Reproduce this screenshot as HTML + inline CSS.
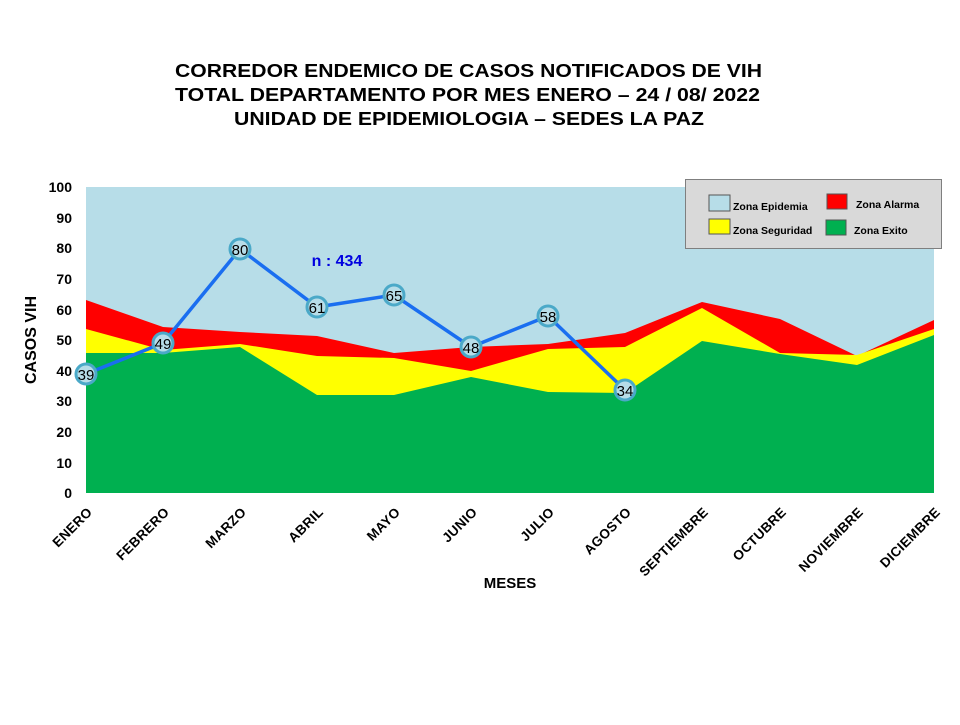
<!DOCTYPE html>
<html><head><meta charset="utf-8"><style>
body{margin:0;background:#fff;width:960px;height:720px;overflow:hidden}
</style></head><body>
<svg width="960" height="720" viewBox="0 0 960 720" xmlns="http://www.w3.org/2000/svg" font-family="Liberation Sans, sans-serif">
<g font-weight="bold" font-size="18" fill="#000">
<text x="175" y="77" textLength="587" lengthAdjust="spacingAndGlyphs">CORREDOR ENDEMICO  DE CASOS NOTIFICADOS  DE VIH</text>
<text x="175" y="101" textLength="585" lengthAdjust="spacingAndGlyphs">TOTAL DEPARTAMENTO  POR MES ENERO – 24 / 08/ 2022</text>
<text x="234" y="125" textLength="470" lengthAdjust="spacingAndGlyphs">UNIDAD  DE EPIDEMIOLOGIA  – SEDES LA PAZ</text>
</g>
<rect x="86" y="187" width="848" height="306" fill="#b7dde8"/>
<polygon fill="#ff0000" points="86,493 86,300 163,327 240,332 317,336 394,353 471,347 548,344 625,333 702,302 780,319 857,356 934,320 934,493"/>
<polygon fill="#ffff00" points="86,493 86,329 163,350 240,344 317,356 394,358 471,371 548,349 625,347 702,308 780,353 857,355 934,329 934,493"/>
<polygon fill="#00b050" points="86,493 86,353 163,353 240,347 317,395 394,395 471,377 548,392 625,393 702,341 780,354 857,365 934,335 934,493"/>
<g font-weight="bold" font-size="14" text-anchor="end">
<text x="72" y="192">100</text><text x="72" y="223">90</text><text x="72" y="253">80</text><text x="72" y="284">70</text><text x="72" y="315">60</text><text x="72" y="345">50</text><text x="72" y="376">40</text><text x="72" y="406">30</text><text x="72" y="437">20</text><text x="72" y="468">10</text><text x="72" y="498">0</text>
</g>
<text transform="translate(36,340) rotate(-90)" font-weight="bold" font-size="16" text-anchor="middle">CASOS VIH</text>
<text x="510" y="588" font-weight="bold" font-size="15" text-anchor="middle">MESES</text>
<g font-weight="bold" font-size="13.5" text-anchor="end" letter-spacing="0.3">
<text transform="translate(93,513) rotate(-45)">ENERO</text>
<text transform="translate(170,513) rotate(-45)">FEBRERO</text>
<text transform="translate(247,513) rotate(-45)">MARZO</text>
<text transform="translate(324,513) rotate(-45)">ABRIL</text>
<text transform="translate(401,513) rotate(-45)">MAYO</text>
<text transform="translate(478,513) rotate(-45)">JUNIO</text>
<text transform="translate(555,513) rotate(-45)">JULIO</text>
<text transform="translate(632,513) rotate(-45)">AGOSTO</text>
<text transform="translate(709,513) rotate(-45)">SEPTIEMBRE</text>
<text transform="translate(787,513) rotate(-45)">OCTUBRE</text>
<text transform="translate(864,513) rotate(-45)">NOVIEMBRE</text>
<text transform="translate(941,513) rotate(-45)">DICIEMBRE</text>
</g>
<polyline fill="none" stroke="#1a6ef0" stroke-width="3.5" points="86,374 163,343 240,249 317,307 394,295 471,347 548,316 625,390"/>
<g fill="#b7dde8" stroke="#4ba9c8" stroke-width="3">
<circle cx="86" cy="374" r="10"/><circle cx="163" cy="343" r="10"/><circle cx="240" cy="249" r="10"/><circle cx="317" cy="307" r="10"/><circle cx="394" cy="295" r="10"/><circle cx="471" cy="347" r="10"/><circle cx="548" cy="316" r="10"/><circle cx="625" cy="390" r="10"/>
</g>
<g font-size="15" text-anchor="middle" fill="#000">
<text x="86" y="380">39</text><text x="163" y="349">49</text><text x="240" y="255">80</text><text x="317" y="313">61</text><text x="394" y="301">65</text><text x="471" y="353">48</text><text x="548" y="322">58</text><text x="625" y="396">34</text>
</g>
<text x="337" y="266" fill="#0000e0" font-weight="bold" font-size="16" text-anchor="middle">n : 434</text>
<rect x="685.5" y="179.5" width="256" height="69" fill="#d9d9d9" stroke="#7f7f7f"/>
<rect x="709" y="195" width="21" height="16" fill="#b7dde8" stroke="#555"/>
<rect x="709" y="219" width="21" height="15" fill="#ffff00" stroke="#555"/>
<rect x="827" y="194" width="20" height="15" fill="#ff0000" stroke="#555"/>
<rect x="826" y="220" width="20" height="15" fill="#00b050" stroke="#555"/>
<g font-size="10.5" font-weight="bold" fill="#000">
<text x="733" y="210">Zona Epidemia</text>
<text x="733" y="234">Zona Seguridad</text>
<text x="856" y="208">Zona Alarma</text>
<text x="854" y="234">Zona Exito</text>
</g>
</svg>
</body></html>
